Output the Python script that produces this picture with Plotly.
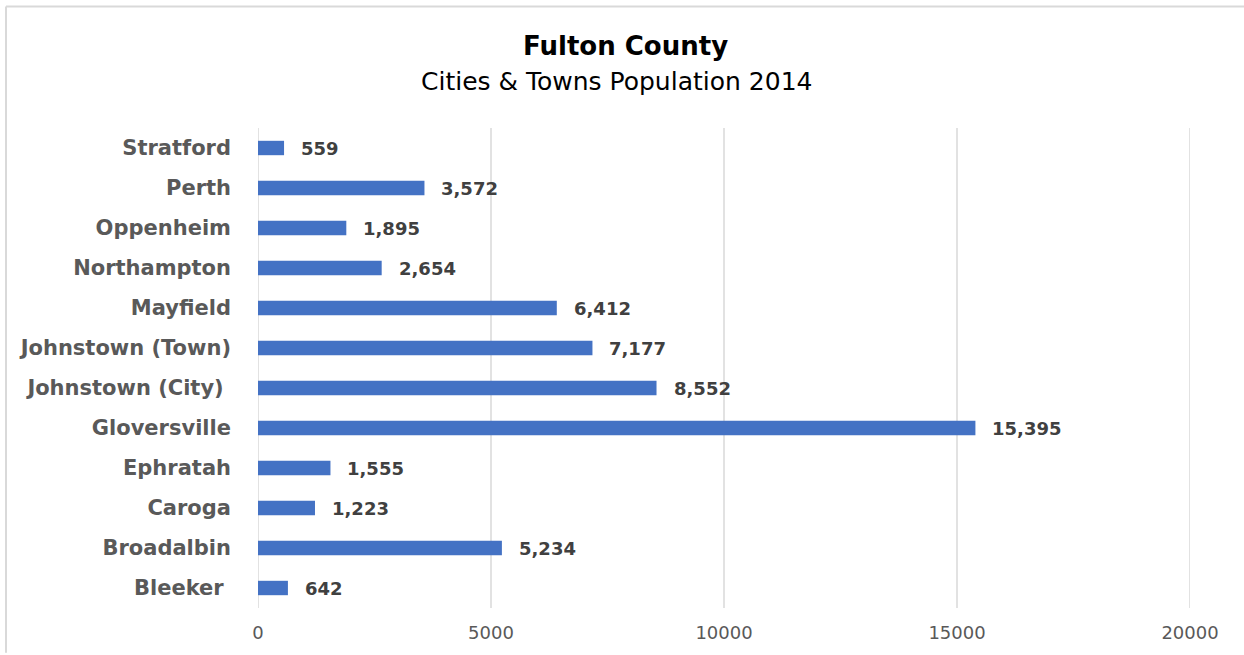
import plotly.graph_objects as go

# Population by municipality, listed bottom-to-top as drawn on the category axis
towns = [
    "Bleeker ", "Broadalbin", "Caroga", "Ephratah", "Gloversville",
    "Johnstown (City) ", "Johnstown (Town)", "Mayfield", "Northampton",
    "Oppenheim", "Perth", "Stratford",
]
population = [642, 5234, 1223, 1555, 15395, 8552, 7177, 6412, 2654, 1895, 3572, 559]

x_ticks = [0, 5000, 10000, 15000, 20000]

W, H = 1244, 655
ML, MR, MT, MB = 258, 54, 128, 45
PW, PH = W - ML - MR, H - MT - MB


def px_x(px):
    return (px - ML) / PW


def px_y(py):
    return (H - MB - py) / PH


BAR = "#4472C4"
GRID = "#d9d9d9"
FONT = "DejaVu Sans"

fig = go.Figure(
    go.Bar(
        x=population,
        y=towns,
        orientation="h",
        marker=dict(color=BAR, line=dict(width=0)),
        hoverinfo="x+y",
    )
)

annotations = [
    dict(
        x=v, y=t, xref="x", yref="y", text=f"{v:,}", showarrow=False,
        xanchor="left", yanchor="middle", xshift=15,
        font=dict(family=FONT, size=18, color="#404040", weight="bold"),
    )
    for t, v in zip(towns, population)
]
annotations += [
    dict(
        x=px_x(625), y=px_y(46), xref="paper", yref="paper",
        text="<b>Fulton County</b>", showarrow=False,
        xanchor="center", yanchor="middle",
        font=dict(family=FONT, size=26, color="#000000"),
    ),
    dict(
        x=px_x(616), y=px_y(81), xref="paper", yref="paper",
        text="Cities &amp; Towns Population 2014", showarrow=False,
        xanchor="center", yanchor="middle",
        font=dict(family=FONT, size=25, color="#000000"),
    ),
]

# Vertical value gridlines, including both ends of the axis
shapes = [
    dict(type="line", xref="x", yref="paper", x0=v, x1=v, y0=0, y1=1,
         layer="below", line=dict(color=GRID, width=1.5))
    for v in x_ticks
]
# Frame edges of the chart area
shapes += [
    dict(type="line", xref="paper", yref="paper",
         x0=px_x(6), x1=px_x(W), y0=px_y(6), y1=px_y(6),
         line=dict(color=GRID, width=2)),
    dict(type="line", xref="paper", yref="paper",
         x0=px_x(6), x1=px_x(6), y0=px_y(6), y1=px_y(H),
         line=dict(color=GRID, width=2)),
]

fig.update_layout(
    width=W, height=H,
    margin=dict(l=ML, r=MR, t=MT, b=MB, pad=0),
    paper_bgcolor="white", plot_bgcolor="white",
    bargap=0.64,
    showlegend=False,
    annotations=annotations,
    shapes=shapes,
    xaxis=dict(
        range=[0, 20000], tickvals=x_ticks, ticktext=[str(v) for v in x_ticks],
        showgrid=False, zeroline=False, showline=False, ticks="",
        ticklabelstandoff=12,
        tickfont=dict(family=FONT, size=18, color="#595959"),
        fixedrange=True,
    ),
    yaxis=dict(
        categoryorder="array", categoryarray=towns,
        showgrid=False, zeroline=False, showline=False, ticks="",
        ticklabelstandoff=26,
        tickfont=dict(family=FONT, size=21, color="#595959", weight="bold"),
        fixedrange=True,
    ),
)

fig.write_html("out.html", config={"displayModeBar": False})
